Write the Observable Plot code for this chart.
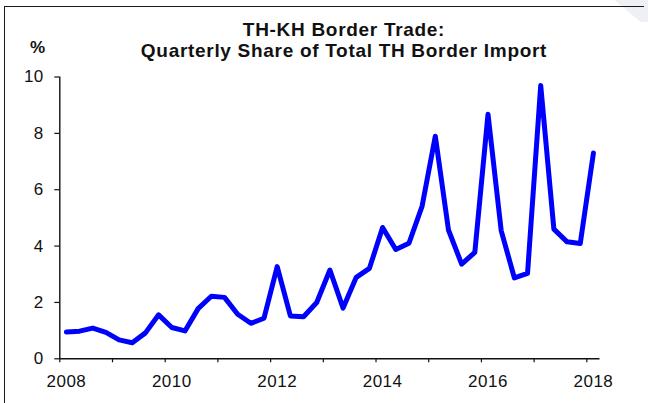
<!DOCTYPE html>
<html>
<head>
<meta charset="utf-8">
<script src="https://cdn.jsdelivr.net/npm/d3@7"></script>
<script src="https://cdn.jsdelivr.net/npm/@observablehq/plot@0.6"></script>
<style>
  body { margin: 0; background: #fff; font-family: "Liberation Sans", Arial, sans-serif; }
  #wrap { position: relative; width: 648px; height: 403px; overflow: hidden; background: #fff; }
  #shade { position: absolute; left: 600px; top: 0; width: 48px; height: 22px; background: #eef0f6;
           clip-path: polygon(30% 0, 100% 0, 100% 100%, 85% 100%); pointer-events: none; }
  #frame { position: absolute; left: 4px; top: 6px; width: 639px; height: 500px;
           border-top: 1.5px solid #1a1a1a; border-left: 1.5px solid #1a1a1a; pointer-events: none; }
  #title { position: relative; height: 64px; }
  .t { position: absolute; left: 0; width: 688px; text-align: center; font-weight: bold;
       font-size: 19px; line-height: 19px; letter-spacing: 0.7px; color: #111; white-space: nowrap; }
  #unit { position: absolute; left: 30px; top: 38.6px; font-weight: bold; font-size: 17px;
          line-height: 17px; color: #111; }
  svg { display: block; }
</style>
</head>
<body>
<div id="wrap">
  <div id="shade"></div>
  <div id="frame"></div>
  <div id="title">
    <div class="t" style="top:20.4px">TH-KH Border Trade:</div>
    <div class="t" style="top:40.9px">Quarterly Share of Total TH Border Import</div>
    <div id="unit">%</div>
  </div>
</div>
<script>
// Quarterly categories 2008 Q1 .. 2018 Q1
const quarters = [
  "2008 Q1","2008 Q2","2008 Q3","2008 Q4",
  "2009 Q1","2009 Q2","2009 Q3","2009 Q4",
  "2010 Q1","2010 Q2","2010 Q3","2010 Q4",
  "2011 Q1","2011 Q2","2011 Q3","2011 Q4",
  "2012 Q1","2012 Q2","2012 Q3","2012 Q4",
  "2013 Q1","2013 Q2","2013 Q3","2013 Q4",
  "2014 Q1","2014 Q2","2014 Q3","2014 Q4",
  "2015 Q1","2015 Q2","2015 Q3","2015 Q4",
  "2016 Q1","2016 Q2","2016 Q3","2016 Q4",
  "2017 Q1","2017 Q2","2017 Q3","2017 Q4",
  "2018 Q1"
];
// Share of total TH border import (%)
const share = [
  0.95, 0.98, 1.09, 0.94,
  0.67, 0.57, 0.92, 1.56,
  1.11, 0.99, 1.78, 2.22,
  2.18, 1.58, 1.26, 1.44,
  3.27, 1.52, 1.49, 2.00,
  3.15, 1.80, 2.89, 3.21,
  4.66, 3.88, 4.10, 5.42,
  7.90, 4.57, 3.36, 3.78,
  8.68, 4.55, 2.87, 3.03,
  9.70, 4.60, 4.15, 4.09,
  7.30
];
const yearLabels = ["2008","2010","2012","2014","2016","2018"];
const yTicks = [0, 2, 4, 6, 8, 10];

const data = quarters.map((q, i) => ({i, q, v: share[i]}));
const n = quarters.length;
const labelIdx = yearLabels.map(y => quarters.indexOf(y + " Q1"));
const labelMap = new Map(labelIdx.map((k, j) => [k, yearLabels[j]]));
const boundaries = quarters.map((q, i) => i).filter(i => quarters[i].endsWith("Q1")).map(i => i - 0.5);

const chart = Plot.plot({
  width: 648,
  height: 339,
  marginTop: 12.5,
  marginBottom: 44.7,
  marginLeft: 59.3,
  marginRight: 48.5,
  style: {
    fontFamily: '"Liberation Sans", Arial, sans-serif',
    fontSize: "17px",
    color: "#111",
    background: "transparent",
    overflow: "visible",
    letterSpacing: "0.5px"
  },
  x: {domain: [-0.5, n - 0.5]},
  y: {domain: [0, 10]},
  marks: [
    Plot.ruleY([0], {x1: -0.5, x2: n - 0.5, stroke: "#111", strokeWidth: 1.4}),
    Plot.ruleX([-0.5], {y1: 0, y2: 10, stroke: "#111", strokeWidth: 1.4}),
    Plot.axisY({ticks: yTicks, tickSize: 5, tickPadding: 11, label: null, fontSize: 17, stroke: "#111", strokeWidth: 1.2}),
    Plot.axisX({ticks: boundaries, tickSize: 4, tickFormat: () => "", label: null, stroke: "#111", strokeWidth: 1.2}),
    Plot.axisX({ticks: labelIdx, tickSize: 0, tickPadding: 16, tickFormat: i => labelMap.get(i), label: null, fontSize: 17}),
    Plot.line(data, {x: "i", y: "v", stroke: "#0000ff", strokeWidth: 5, strokeLinejoin: "round", strokeLinecap: "round"})
  ]
});
document.getElementById("wrap").appendChild(chart);
</script>
</body>
</html>
